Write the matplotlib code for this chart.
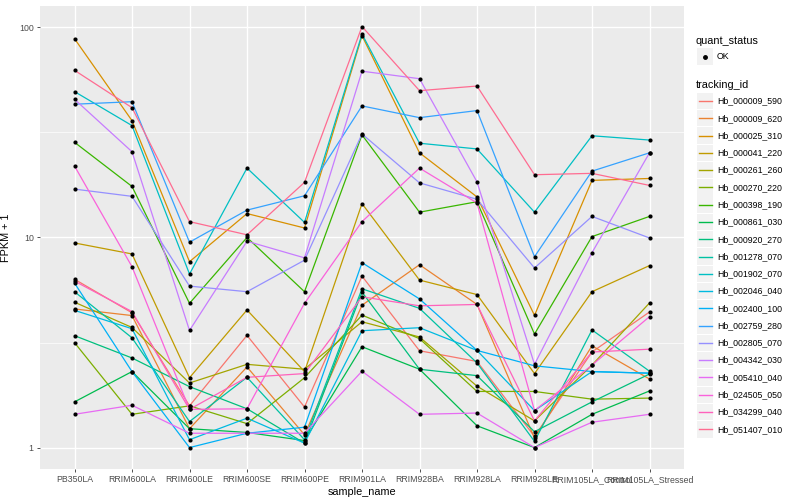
import numpy as np
import matplotlib.pyplot as plt
from matplotlib.patches import Rectangle
from matplotlib.lines import Line2D

plt.rcParams['font.family'] = ['Liberation Sans', 'DejaVu Sans']

samples = ['PB350LA', 'RRIM600LA', 'RRIM600LE', 'RRIM600SE', 'RRIM600PE', 'RRIM901LA',
           'RRIM928BA', 'RRIM928LA', 'RRIM928LE', 'RRIM105LA_Control', 'RRIM105LA_Stressed']

tracking_ids = ['Hb_000009_590', 'Hb_000009_620', 'Hb_000025_310', 'Hb_000041_220',
                'Hb_000261_260', 'Hb_000270_220', 'Hb_000398_190', 'Hb_000861_030',
                'Hb_000920_270', 'Hb_001278_070', 'Hb_001902_070', 'Hb_002046_040',
                'Hb_002400_100', 'Hb_002759_280', 'Hb_002805_070', 'Hb_004342_030',
                'Hb_005410_040', 'Hb_024505_050', 'Hb_034299_040', 'Hb_051407_010']

colors = ['#F8766D', '#EA8331', '#D89000', '#C09B00', '#A3A500', '#7CAE00', '#39B600',
          '#00BB4E', '#00BF7D', '#00C1A3', '#00BFC4', '#00BAE0', '#00B0F6', '#35A2FF',
          '#9590FF', '#C77CFF', '#E76BF3', '#FA62DB', '#FF62BC', '#FF6C91']

# FPKM + 1, one list per tracking_id
fpkm = [
    [6.33, 4.38, 1.58, 3.42, 1.56, 6.55, 2.89, 2.57, 1.13, 2.85, 4.42],   # 000009_590
    [4.57, 4.25, 1.23, 2.42, 1.15, 4.76, 7.42, 4.80, 1.11, 3.05, 2.12],   # 000009_620
    [88.4, 36.0, 7.67, 13.0, 11.1, 91.4, 25.3, 15.6, 4.26, 18.7, 19.1],   # 000025_310
    [9.42, 8.35, 2.15, 4.52, 2.30, 14.5, 6.27, 5.35, 2.25, 5.52, 7.35],   # 000041_220
    [4.92, 3.73, 2.03, 2.49, 2.36, 3.97, 3.36, 1.96, 1.34, 2.47, 4.88],   # 000261_260
    [3.16, 1.44, 1.58, 1.30, 2.15, 4.27, 3.30, 1.85, 1.85, 1.70, 1.72],   # 000270_220
    [28.4, 17.5, 4.86, 10.0, 5.52, 30.8, 13.2, 14.8, 3.47, 10.1, 12.6],   # 000398_190
    [1.65, 2.30, 1.23, 1.18, 1.08, 3.02, 2.36, 1.27, 1.00, 1.44, 1.86],   # 000861_030
    [3.41, 2.67, 1.95, 1.53, 1.05, 5.50, 2.36, 2.20, 1.19, 1.65, 2.24],   # 000920_270
    [5.52, 3.33, 1.33, 2.16, 1.09, 5.70, 4.60, 2.53, 1.07, 3.63, 2.31],   # 001278_070
    [49.5, 34.1, 6.70, 21.4, 11.8, 93.0, 28.1, 26.4, 13.2, 30.5, 29.1],   # 001902_070
    [4.50, 3.68, 1.09, 1.38, 1.05, 3.60, 3.72, 2.90, 1.50, 2.30, 2.26],   # 002046_040
    [6.07, 2.30, 1.00, 1.17, 1.25, 7.59, 5.10, 2.90, 2.45, 2.30, 2.26],   # 002400_100
    [43.1, 44.3, 9.50, 13.5, 15.8, 42.3, 37.2, 40.2, 8.10, 20.7, 25.3],   # 002759_280
    [17.0, 15.7, 5.87, 5.52, 7.80, 31.1, 18.2, 15.2, 7.16, 12.6, 9.95],   # 002805_070
    [45.5, 25.6, 3.61, 9.60, 8.00, 61.9, 57.0, 18.4, 2.49, 8.47, 25.3],   # 004342_030
    [1.44, 1.59, 1.17, 1.17, 1.17, 2.31, 1.44, 1.46, 1.00, 1.32, 1.44],   # 005410_040
    [21.9, 7.26, 1.52, 1.53, 4.86, 11.9, 21.4, 14.6, 1.50, 2.47, 4.20],   # 024505_050
    [6.20, 4.44, 1.52, 2.16, 2.25, 5.22, 4.73, 4.80, 1.34, 2.85, 2.94],   # 034299_040
    [62.5, 41.5, 11.9, 10.3, 18.3, 101.0, 50.0, 52.6, 19.9, 20.2, 17.7],  # 051407_010
]

fig = plt.figure(figsize=(8, 5), dpi=100)
ax = fig.add_axes([0.05, 0.062, 0.805, 0.926])
ax.set_facecolor('#EBEBEB')

x = np.arange(len(samples))
for vals, col in zip(fpkm, colors):
    ax.plot(x, vals, color=col, lw=0.9, zorder=3)
for vals in fpkm:
    ax.plot(x, vals, 'o', color='black', ms=3.0, mew=0, zorder=4)

ax.set_yscale('log')
ax.set_ylim(10 ** -0.102, 10 ** 2.102)
ax.set_xlim(-0.6, len(samples) - 0.4)
ax.set_yticks([1, 10, 100])
ax.set_yticklabels(['1', '10', '100'])
ax.yaxis.set_minor_locator(plt.NullLocator())
for v in [10 ** 0.5, 10 ** 1.5]:
    ax.axhline(v, color='white', lw=0.5, zorder=1)
ax.set_xticks(x)
ax.set_xticklabels(samples)
ax.grid(True, which='major', color='white', lw=1.0, zorder=1)
ax.set_axisbelow(True)
for s in ax.spines.values():
    s.set_visible(False)
ax.tick_params(axis='both', length=2.5, width=0.6, color='#333333',
               labelcolor='#4D4D4D', labelsize=6.3, pad=2)
ax.set_xlabel('sample_name', fontsize=7.8, labelpad=2)
ax.set_ylabel('FPKM + 1', fontsize=7.8, labelpad=6)

# legend, drawn by hand in pixel coords (y measured from top)
W, H = 800, 500
def fx(px):
    return px / W
def fy(py):
    return 1 - py / H

fig.text(fx(696), fy(41), 'quant_status', fontsize=7.8, va='center', ha='left')
fig.add_artist(Rectangle((fx(697), fy(65)), 16 / W, 17 / H, transform=fig.transFigure,
                         facecolor='#F2F2F2', edgecolor='none'))
fig.add_artist(Line2D([fx(705)], [fy(56.5)], marker='o', color='black', ms=2.5,
                      transform=fig.transFigure))
fig.text(fx(717), fy(56.5), 'OK', fontsize=6.3, va='center', ha='left')

fig.text(fx(696), fy(84.5), 'tracking_id', fontsize=7.8, va='center', ha='left')
for i, (tid, col) in enumerate(zip(tracking_ids, colors)):
    yc = 101 + i * 17.28
    fig.add_artist(Rectangle((fx(697), fy(yc + 8.2)), 16 / W, 16.4 / H,
                             transform=fig.transFigure, facecolor='#F2F2F2', edgecolor='none'))
    fig.add_artist(Line2D([fx(698.5), fx(711.5)], [fy(yc), fy(yc)], color=col, lw=1.0,
                          transform=fig.transFigure))
    fig.text(fx(717), fy(yc), tid, fontsize=6.3, va='center', ha='left')

fig.savefig('out.png', dpi=100)
